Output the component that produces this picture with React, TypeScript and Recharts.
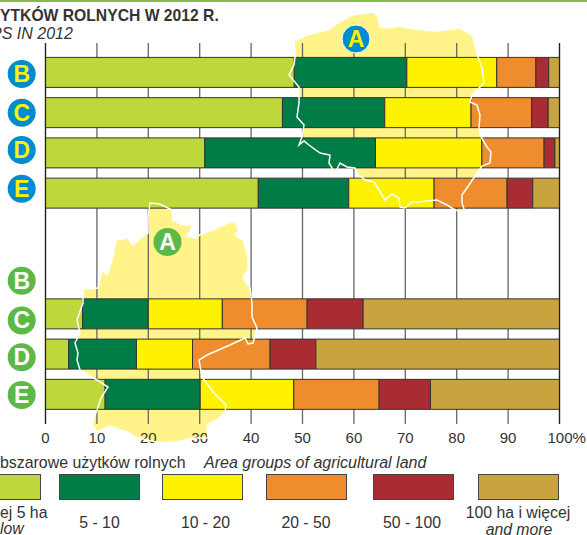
import { BarChart, Bar, XAxis, YAxis, CartesianGrid, ReferenceLine } from "recharts";

const rows = ["top-B", "top-C", "top-D", "top-E", "gap", "bot-B", "bot-C", "bot-D", "bot-E"];
const under5 = [48.4, 46.1, 31.0, 41.4, 0, 0, 7.2, 4.5, 11.6];
const from5to10 = [21.9, 19.9, 33.2, 17.6, 0, 0, 12.8, 13.2, 18.5];
const from10to20 = [17.5, 16.8, 20.7, 16.6, 0, 0, 14.4, 10.9, 18.2];
const from20to50 = [7.6, 11.8, 12.1, 14.2, 0, 0, 16.5, 15.1, 16.6];
const from50to100 = [2.5, 3.2, 2.1, 5.0, 0, 0, 10.9, 8.9, 10.0];
const over100 = [2.1, 2.2, 0.9, 5.2, 0, 0, 38.2, 47.4, 25.1];
const xTicks = [0, 10, 20, 30, 40, 50, 60, 70, 80, 90, 100];

const seriesNames = ["under5", "from5to10", "from10to20", "from20to50", "from50to100", "over100"];
const seriesColors = ["#bed73b", "#007c46", "#fff200", "#ef8d2e", "#a82c32", "#c9a43e"];
const seriesValues = [under5, from5to10, from10to20, from20to50, from50to100, over100];

const tableData = rows.map((row, i) => {
  const item: Record<string, string | number> = { row };
  seriesNames.forEach((name, s) => {
    item[name] = seriesValues[s][i];
  });
  return item;
});

// shapes behind the bars
const topMap =
  "M294 41 L307 35 L330 29 L339 22 L352 15 L374 12 L378 17 L380 27 L387 28 L399 26 L414 29 L437 31 L460 28 L465 31 L473 35 L474 42 L478 57 L482 68 L484 83 L479 88 L472 95 L470 102 L477 105 L480 115 L479 127 L480 135 L487 147 L491 152 L490 163 L482 166 L477 173 L469 185 L462 195 L462 203 L465 212 L455 210 L447 205 L437 200 L427 201 L419 202 L412 202 L405 208 L400 207 L399 198 L392 194 L385 200 L379 190 L374 182 L365 180 L357 173 L355 168 L347 167 L340 163 L335 173 L329 163 L330 155 L320 153 L309 145 L304 141 L299 145 L302 137 L304 125 L297 117 L299 103 L299 87 L289 75 L294 65 L295 57 Z";
const bottomMap =
  "M150 203 L160 204 L172 210 L173 220 L182 225 L190 225 L193 223 L190 232 L186 236 L195 238 L200 235 L217 228 L230 222 L235 222 L239 230 L235 235 L243 240 L248 257 L248 270 L243 278 L250 288 L252 303 L252 317 L257 328 L253 343 L248 344 L245 338 L230 345 L207 355 L199 360 L202 377 L213 392 L226 405 L225 412 L217 420 L207 425 L208 438 L193 438 L177 442 L160 443 L135 437 L127 432 L110 426 L97 432 L92 423 L97 410 L101 398 L108 387 L97 380 L80 370 L77 360 L78 353 L75 343 L80 333 L77 320 L83 303 L83 289 L98 288 L102 270 L107 275 L113 257 L116 240 L128 238 L133 245 L142 237 L148 233 L148 217 Z";

const swatchLefts = [-40, 59, 162, 266, 373, 478];
// the round badges sit a little off the bar centres
const badgeShift = [1.5, 0, -3, -4.5, 0, 7, 6.5, 3, 0.5];

function RowBadge({ y, payload, index }: any) {
  const blue = index < 4;
  const letter = String(payload.value).split("-")[1];
  if (!letter) return null;
  const cy = y + badgeShift[index];
  return (
    <g>
      <circle cx={21.7} cy={cy} r={14} fill={blue ? "#008ccf" : "#5cb947"} />
      <text x={21.7} y={cy + 8} textAnchor="middle" fontSize={23} fontWeight="bold" fill={blue ? "#fff200" : "#fff"}>
        {letter}
      </text>
    </g>
  );
}

function PercentTick({ x, y, payload }: any) {
  const isLast = payload.value === 100;
  return (
    <text x={isLast ? x - 12 : x} y={y + 13} textAnchor={isLast ? "start" : "middle"} fontSize={15} fill="#333">
      {isLast ? "100%" : payload.value}
    </text>
  );
}

export default function App() {
  const font = "'Liberation Sans', Arial, sans-serif";
  return (
    <div style={{ position: "fixed", left: 0, top: 0, width: 587, height: 535, overflow: "hidden", background: "#fff", fontFamily: font }}>
      <div style={{ position: "absolute", left: 0, top: 0, width: 587, height: 2, background: "#8db84a" }} />
      <svg width={587} height={535} style={{ position: "absolute", left: 0, top: 0 }}>
        <path d={topMap} fill="#fff389" />
        <path d={bottomMap} fill="#fff389" />
      </svg>
      <div style={{ position: "absolute", left: 0, top: 0 }}>
        <BarChart
          width={587}
          height={535}
          data={tableData}
          layout="vertical"
          barSize={30}
          margin={{ top: 43, right: 27.5, bottom: 81, left: 0.5 }}
        >
          <CartesianGrid horizontal={false} stroke="#666" strokeWidth={1.3} />
          <XAxis
            type="number"
            domain={[0, 100]}
            ticks={xTicks}
            axisLine={false}
            tickLine={false}
            tick={<PercentTick />}
            height={30}
            tickMargin={0}
          />
          <YAxis
            type="category"
            dataKey="row"
            width={45}
            padding={{ top: 9.4, bottom: 9.4 }}
            axisLine={false}
            tickLine={false}
            tick={<RowBadge />}
            interval={0}
          />
          {seriesNames.map((name, i) => (
            <Bar
              key={name}
              dataKey={name}
              stackId="a"
              fill={seriesColors[i]}
              stroke="#333"
              strokeWidth={1}
              isAnimationActive={false}
            />
          ))}
          <ReferenceLine x={0} stroke="#222" strokeWidth={1.2} />
          <ReferenceLine x={100} stroke="#222" strokeWidth={1.2} />
        </BarChart>
      </div>
      <svg width={587} height={535} style={{ position: "absolute", left: 0, top: 0, pointerEvents: "none" }}>
        <path d={topMap} fill="none" stroke="#fff" strokeWidth={1.5} />
        <path d={bottomMap} fill="none" stroke="#fff" strokeWidth={1.5} />
        <circle cx={356} cy={39} r={14} fill="#008ccf" stroke="#fff" strokeWidth={1} />
        <text x={356} y={47} textAnchor="middle" fontSize={23} fontWeight="bold" fill="#fff200" fontFamily={font}>A</text>
        <circle cx={167.5} cy={242} r={14} fill="#5cb947" />
        <text x={167.5} y={250} textAnchor="middle" fontSize={23} fontWeight="bold" fill="#fff" fontFamily={font}>A</text>
        {swatchLefts.map((left, i) => (
          <rect key={i} x={left + 0.5} y={474.5} width={80} height={25} fill={seriesColors[i]} stroke="#444" strokeWidth={1} />
        ))}
        <g fontFamily={font} fill="#333">
          <text x={0} y={21} fontSize={15.7} fontWeight="bold">YTKÓW ROLNYCH W 2012 R.</text>
          <text x={-9} y={39} fontSize={16} fontStyle="italic">PS IN 2012</text>
          <text x={0} y={468} fontSize={15.9}>bszarowe użytków rolnych</text>
          <text x={204} y={468} fontSize={16} fontStyle="italic">Area groups of agricultural land</text>
          <text x={0} y={518} fontSize={15.8}>ej 5 ha</text>
          <text x={0} y={534} fontSize={15.8} fontStyle="italic">low</text>
          <text x={99.5} y={528} fontSize={15.8} textAnchor="middle">5 - 10</text>
          <text x={205.5} y={528} fontSize={15.8} textAnchor="middle">10 - 20</text>
          <text x={306} y={528} fontSize={15.8} textAnchor="middle">20 - 50</text>
          <text x={412} y={528} fontSize={15.8} textAnchor="middle">50 - 100</text>
          <text x={518} y={518} fontSize={15.8} textAnchor="middle">100 ha i więcej</text>
          <text x={519} y={535} fontSize={15.8} fontStyle="italic" textAnchor="middle">and more</text>
        </g>
      </svg>
    </div>
  );
}
